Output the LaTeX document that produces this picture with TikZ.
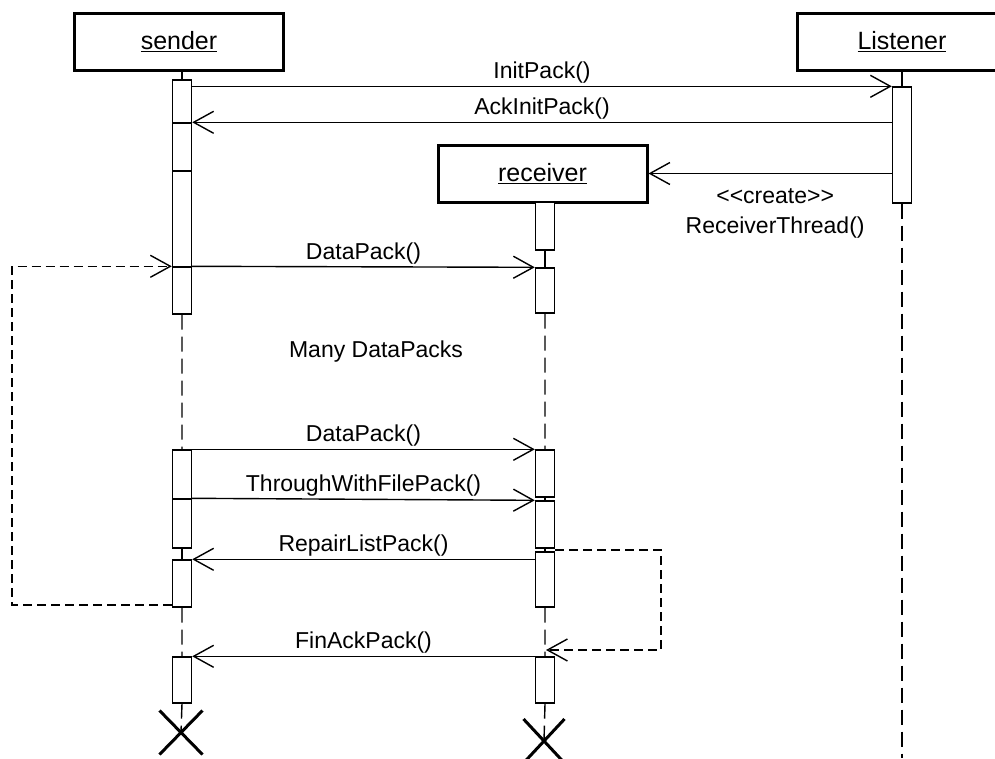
\documentclass[tikz,border=0pt]{standalone}
\usepackage{fontspec}
\setmainfont{Liberation Sans}
\usetikzlibrary{arrows.meta,shapes.misc}

\begin{document}
\begin{tikzpicture}[x=1pt,y=-1pt,>={Straight Barb[length=20pt,width=22pt]},
	obj/.style={draw,line width=3pt,minimum width=209pt,minimum height=57pt,font=\fontsize{25}{28}\selectfont},
	bar/.style={draw,fill=white,line width=1.4pt,minimum width=19pt,inner sep=0pt},
	msg/.style={->,line width=1.4pt},
	lbl/.style={font=\fontsize{23}{27}\selectfont,inner sep=2pt},
	life/.style={line width=1.4pt,dash pattern=on 15pt off 7pt},
	loopback/.style={->,line width=1.4pt,dash pattern=on 9pt off 5pt},
	kill/.style={draw,cross out,line width=3pt,minimum width=40pt,minimum height=41pt}]
	\useasboundingbox (0,0) rectangle (995,758);
	% objects
	\node[obj] (sender) at (179,41.5) {\underline{sender}};
	\node[obj] (listener) at (902,41.5) {\underline{Listener}};
	\node[obj] (receiver) at (542.5,173.5) {\underline{receiver}};
	% activation bars
	\foreach \n/\x/\a/\b in {s1/182/80/123,s2/182/123/171,s3/182/171/267,s4/182/267/314,
		s5/182/450/499,s6/182/499/548,s7/182/560/607,s8/182/657/703,l1/902/87/203,
		r1/545/202/250,r2/545/268/313,r3/545/450/497,r4/545/501/548,r5/545/552/607,r6/545/657/703}
		\node[bar,minimum height={(\b-\a)*1pt}] (\n) at (\x,{(\a+\b)/2}) {};
	\node[kill] (sx) at (181,732.5) {};
	\node[kill,minimum width=38pt] (rx) at (544,741) {};
	\path
	(902,758) coordinate (lend)
	(12,605) coordinate (sloop)
	(661,550) coordinate (rloop)
	(546,650) coordinate (rback)
	;
	% lifelines
	\draw[line width=1.4pt] (s1.north |- sender.south) -- (s1.north);
	\draw[line width=1.4pt] (l1.north |- listener.south) -- (l1.north);
	\draw[life] (s4.south) -- (s5.north) (s7.south) -- (s8.north) (s8.south) -- (sx.center);
	\draw[line width=1.4pt] (s6.south) -- (s7.north);
	\draw[line width=1.4pt] (r1.south) -- (r2.north) (r3.south) -- (r4.north) (r4.south) -- (r5.north);
	\draw[life] (r2.south) -- (r3.north) (r5.south) -- (r6.north) (r6.south) -- (rx.center);
	\draw[life] (l1.south) -- (lend);
	% messages
	\draw[msg] (s1.east |- l1.north west) -- node[lbl,above]{InitPack()} (l1.north west);
	\draw[msg] (l1.west |- s2.north) -- node[lbl,above]{AckInitPack()} (s2.north east);
	\draw[msg] (l1.west |- receiver.east) -- node[lbl,below=12pt,xshift=5pt,align=center,font=\fontsize{23}{30}\selectfont]{<{}<create>{}>\\ReceiverThread()} (receiver.east);
	\draw[msg] (s4.north east) -- node[lbl,above]{DataPack()} (r2.north west);
	\node[lbl] (many) at (376,352) {Many DataPacks};
	\draw[msg] (s5.north east) -- node[lbl,above]{DataPack()} (r3.north west);
	\draw[msg] (s6.north east) -- node[lbl,above]{ThroughWithFilePack()} (r4.north west);
	\draw[msg] (r5.west |- s7.north) -- node[lbl,above]{RepairListPack()} (s7.north east);
	\draw[msg] (r6.north west) -- node[lbl,above]{FinAckPack()} (s8.north east);
	% loops
	\draw[loopback] (s7.west |- sloop) -- (sloop) |- (s4.north west);
	\draw[loopback] (r5.east |- rloop) -- (rloop) |- (rback);
\end{tikzpicture}
\end{document}
